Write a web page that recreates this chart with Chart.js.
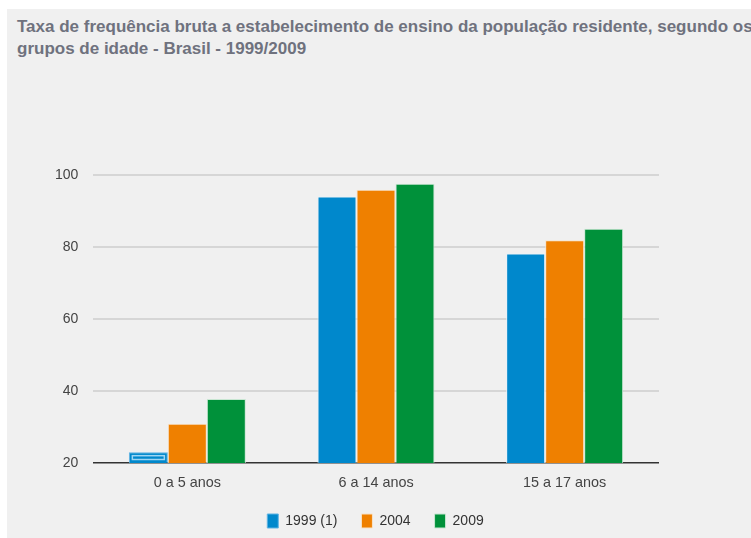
<!DOCTYPE html>
<html lang="pt">
<head>
<meta charset="utf-8">
<script src="https://cdn.jsdelivr.net/npm/chart.js@4"></script>
<style>
  html, body { margin: 0; padding: 0; background: #fff; overflow: hidden; }
  #panel { position: absolute; left: 7px; top: 9px; width: 744px; height: 529px; background: #f0f0f0; }
  #title {
    position: absolute; left: 17px; top: 16px; white-space: nowrap;
    font: bold 17px "Liberation Sans", Arial, sans-serif; line-height: 22px; color: #6f727e;
  }
  #wrap { position: absolute; left: 0; top: 0; width: 751px; height: 538px; }
</style>
</head>
<body>
<div id="panel"></div>
<div id="title">Taxa de frequência bruta a estabelecimento de ensino da população residente, segundo os<br>grupos de idade - Brasil - 1999/2009</div>
<div id="wrap"><canvas id="grafico"></canvas></div>
<script>
const categorias = ["0 a 5 anos", "6 a 14 anos", "15 a 17 anos"];
const anos = ["1999 (1)", "2004", "2009"];
const taxa1999 = [23.0, 94.0, 78.2];
const taxa2004 = [30.9, 95.9, 81.9];
const taxa2009 = [37.8, 97.6, 85.1];
const yTicks = [20, 40, 60, 80, 100];

const fonte = { family: "'Liberation Sans', Arial, sans-serif", size: 14 };

// marca de destaque da primeira barra (como no original)
const destaque = {
    id: "destaque",
    afterDatasetsDraw(chart) {
        const bar = chart.getDatasetMeta(0).data[0];
        if (!bar) return;
        const p = bar.getProps(["x", "y", "base", "width"], true);
        const base = Math.min(p.base, chart.chartArea.bottom);
        const ctx = chart.ctx;
        ctx.save();
        ctx.strokeStyle = "#9ed6f3";
        ctx.lineWidth = 1.5;
        ctx.strokeRect(p.x - p.width / 2 + 3.5, p.y + 3.5, p.width - 7, base - p.y - 7);
        ctx.restore();
    }
};

new Chart(document.getElementById("grafico"), {
    type: "bar",
    data: {
        labels: categorias,
        datasets: [
            { label: anos[0], data: taxa1999, backgroundColor: "#0088cc", borderColor: ["#5fb3e3", "#e6f2fa", "#e6f2fa"], borderWidth: 1 },
            { label: anos[1], data: taxa2004, backgroundColor: "#ef8000", borderColor: "#f7e2c8", borderWidth: 1 },
            { label: anos[2], data: taxa2009, backgroundColor: "#00913a", borderColor: "#c8e6d2", borderWidth: 1 },
        ],
    },
    options: {
        responsive: true,
        maintainAspectRatio: false,
        animation: false,
        layout: { padding: { left: 92, right: 92, top: 175, bottom: 0 } },
        datasets: { bar: { categoryPercentage: 0.62, barPercentage: 1.0 } },
        plugins: {
            title: { display: false },
            tooltip: { enabled: false },
            legend: {
                position: "bottom",
                labels: { boxWidth: 11, boxHeight: 14, padding: 24, color: "#333", font: fonte },
            },
        },
        scales: {
            x: {
                afterFit(scale) { scale.height = 27; },
                grid: { display: false, drawTicks: false },
                border: { display: false },
                ticks: { color: "#444", font: { family: fonte.family, size: 14.4 }, padding: 11 },
            },
            y: {
                min: 20,
                max: 100,
                afterFit(scale) { scale.width = 1; },
                afterBuildTicks(scale) { scale.ticks = yTicks.map(v => ({ value: v })); },
                border: { display: false },
                grid: {
                    drawTicks: false,
                    color: ctx => ctx.tick && ctx.tick.value === 20 ? "#333" : "#d6d6d6",
                    lineWidth: ctx => ctx.tick && ctx.tick.value === 20 ? 1.5 : 2,
                },
                // rótulos espelhados e deslocados para a esquerda do eixo
                ticks: { color: "#444", font: fonte, mirror: true, crossAlign: "far", padding: -38 },
            },
        },
    },
    plugins: [destaque],
});
</script>
</body>
</html>
